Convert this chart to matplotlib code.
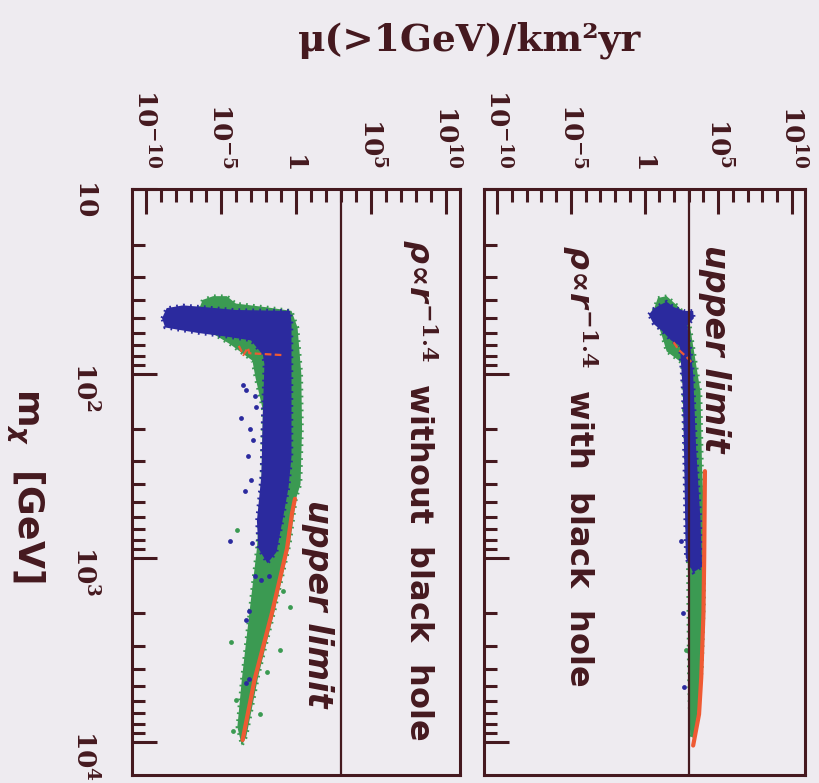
import matplotlib.pyplot as plt
from matplotlib.ticker import FixedLocator, FixedFormatter, NullFormatter, LogLocator

plt.rcParams['mathtext.fontset'] = 'custom'
plt.rcParams['mathtext.rm'] = 'DejaVu Serif:bold'
plt.rcParams['mathtext.it'] = 'DejaVu Sans:italic:bold'
plt.rcParams['mathtext.bf'] = 'DejaVu Sans:bold'

INK = '#45191f'
PAPER = '#eeebf0'
BLUE = '#2b2a9e'
GREEN = '#3b9a52'
RED = '#ef5a33'
SANS = ['DejaVu Sans']

# muon flux limit, muons(>1GeV)/km^2 yr
upper_limit = 10 ** 3.0

mu_ticks = [1e-10, 1e-5, 1, 1e5, 1e10]
mu_labels = [r'$10^{-10}$', r'$10^{-5}$', r'$1$', r'$10^{5}$', r'$10^{10}$']
m_ticks = [10, 100, 1000, 10000]
m_labels = [r'$10$', r'$10^{2}$', r'$10^{3}$', r'$10^{4}$']

# outlines of the model clouds, (log10 mu, log10 m_chi)
# rho ~ r^-1.4, no black hole
green_nobh = [(-6.6, 1.68), (-6.2, 1.60), (-5.5, 1.58), (-4.6, 1.58), (-4.0, 1.62),
              (-2.0, 1.64), (-0.3, 1.66), (0.1, 1.75), (0.35, 2.0), (0.4, 2.3),
              (0.3, 2.6), (0.0, 2.68), (-0.4, 2.92), (-1.4, 3.28), (-2.5, 3.64),
              (-3.3, 3.97), (-3.6, 4.02), (-3.9, 3.92), (-3.6, 3.66), (-3.1, 3.30),
              (-2.6, 2.95), (-2.3, 2.6), (-2.2, 2.2), (-2.7, 2.02), (-2.9, 1.93),
              (-4.4, 1.84), (-6.0, 1.76)]
blue_nobh = [(-8.9, 1.70), (-8.6, 1.645), (-7.5, 1.63), (-6.0, 1.64), (-4.0, 1.655),
             (-0.4, 1.66), (-0.3, 1.72), (-0.3, 2.0), (-0.3, 2.45), (-0.5, 2.62),
             (-0.9, 2.8), (-1.3, 2.97), (-1.9, 3.03), (-2.5, 2.95), (-2.6, 2.8),
             (-2.3, 2.55), (-2.2, 2.2), (-2.1, 1.95), (-2.2, 1.90), (-2.6, 1.86),
             (-3.0, 1.82), (-4.6, 1.80), (-6.5, 1.78), (-8.0, 1.76), (-8.7, 1.75)]
red_nobh = [(-0.07, 2.68), (-0.27, 2.76), (-0.6, 2.95), (-1.6, 3.30), (-2.75, 3.66),
            (-3.55, 3.99)]
red_corner_nobh = [(-3.8, 1.85), (-3.5, 1.90), (-3.2, 1.86), (-3.1, 1.89), (-0.9, 1.90)]
blue_dots_nobh = [(-3.54, 2.06), (-3.31, 2.09), (-2.75, 2.12), (-2.64, 2.18), (-3.64, 2.24),
                  (-3.09, 2.30), (-2.87, 2.36), (-3.2, 2.45), (-2.98, 2.58), (-3.42, 2.64),
                  (-4.4, 2.91), (-2.95, 2.92), (-3.1, 3.29), (-3.3, 3.34), (-3.3, 3.68),
                  (-3.1, 3.66), (-2.7, 3.1), (-2.3, 3.12), (-1.8, 3.1)]
green_dots_nobh = [(-3.9, 2.85), (-4.3, 3.46), (-4.0, 3.77), (-4.2, 3.94), (-0.4, 3.27),
                   (-1.07, 3.5), (-0.87, 3.18), (-2.4, 3.85), (-1.9, 3.62)]

# rho ~ r^-1.4 with the central black hole
green_bh = [(0.6, 1.66), (0.9, 1.59), (1.5, 1.58), (2.2, 1.63), (3.0, 1.70),
            (3.4, 1.90), (3.8, 2.1), (3.9, 2.5), (4.05, 2.8), (4.05, 3.2),
            (3.9, 3.6), (3.6, 3.85), (3.35, 3.98), (3.1, 3.97), (3.0, 3.6),
            (2.95, 3.1), (2.8, 2.5), (2.6, 2.0), (2.5, 1.94), (1.5, 1.88), (1.2, 1.80)]
blue_bh = [(0.29, 1.68), (0.6, 1.65), (1.0, 1.63), (1.5, 1.61), (2.0, 1.64),
           (2.7, 1.66), (3.3, 1.66), (3.35, 1.70), (2.9, 1.74), (3.1, 1.85),
           (3.3, 2.0), (3.5, 2.4), (3.8, 2.8), (3.9, 3.05), (3.3, 3.08),
           (2.8, 3.0), (2.7, 2.5), (2.6, 2.1), (2.4, 1.85), (1.8, 1.82),
           (1.2, 1.77), (0.6, 1.73)]
red_bh = [(4.1, 2.53), (4.05, 3.0), (4.0, 3.3), (3.85, 3.65), (3.7, 3.85), (3.3, 4.02)]
red_corner_bh = [(1.97, 1.83), (2.3, 1.87), (2.85, 1.91), (3.2, 1.94)]
blue_dots_bh = [(2.5, 2.91), (2.6, 3.3), (2.7, 3.7)]
green_dots_bh = [(2.7, 2.2), (2.8, 3.5)]


def unlog(pts):
    return [10 ** a for a, b in pts], [10 ** b for a, b in pts]


def cloud(ax, pts, color, z):
    # dense region plus a dotted rim so the edge looks speckled
    x, y = unlog(pts)
    ax.fill(x, y, color=color, lw=0, zorder=z)
    ax.fill(x, y, facecolor='none', edgecolor=color, lw=2.5,
            linestyle=(0, (0.5, 1.5)), zorder=z)


def panel(ax, green, blue, red, red_corner, blue_dots, green_dots):
    cloud(ax, green, GREEN, 2)
    x, y = unlog(green_dots)
    ax.scatter(x, y, s=12, color=GREEN, lw=0, zorder=2)
    cloud(ax, blue, BLUE, 3)
    x, y = unlog(blue_dots)
    ax.scatter(x, y, s=12, color=BLUE, lw=0, zorder=3)
    x, y = unlog(red)
    ax.plot(x, y, color=RED, lw=3, solid_capstyle='round', zorder=4)
    x, y = unlog(red_corner)
    ax.plot(x, y, color=RED, lw=1.6, linestyle=(0, (3, 1.5)), zorder=4)
    ax.axvline(upper_limit, color=INK, lw=1.6, zorder=5)

    ax.set_xscale('log')
    ax.set_yscale('log')
    ax.set_xlim(10 ** -10.9, 10 ** 10.9)
    ax.set_ylim(10 ** 4.18, 10)
    ax.set_facecolor(PAPER)
    for s in ax.spines.values():
        s.set_linewidth(2.2)
        s.set_color(INK)

    ax.xaxis.tick_top()
    ax.xaxis.set_major_locator(FixedLocator(mu_ticks))
    ax.xaxis.set_major_formatter(FixedFormatter(mu_labels))
    ax.xaxis.set_minor_locator(FixedLocator([10.0 ** k for k in range(-10, 11)]))
    ax.xaxis.set_minor_formatter(NullFormatter())
    ax.yaxis.set_major_locator(FixedLocator(m_ticks))
    ax.yaxis.set_major_formatter(FixedFormatter(m_labels))
    ax.yaxis.set_minor_locator(LogLocator(base=10, subs=range(2, 10)))
    ax.yaxis.set_minor_formatter(NullFormatter())
    ax.tick_params(which='both', direction='in', color=INK, width=2.2,
                   top=True, bottom=False, left=True, right=False,
                   labeltop=True, labelbottom=False, labelcolor=INK)
    ax.tick_params(which='major', length=18)
    ax.tick_params(which='minor', length=9.5)
    ax.tick_params(axis='x', labelrotation=-90, labelsize=19, pad=15)
    ax.tick_params(axis='y', labelrotation=-90, labelsize=19, pad=24)


fig = plt.figure(figsize=(8.19, 7.83), dpi=100, facecolor=PAPER)
ax_l = fig.add_axes([0.1612, 0.0102, 0.4005, 0.7480])
ax_r = fig.add_axes([0.5910, 0.0102, 0.3920, 0.7480])

panel(ax_l, green_nobh, blue_nobh, red_nobh, red_corner_nobh, blue_dots_nobh, green_dots_nobh)
panel(ax_r, green_bh, blue_bh, red_bh, red_corner_bh, blue_dots_bh, green_dots_bh)
ax_r.tick_params(axis='y', labelleft=False)

ax_l.text(0.878, 0.915, r'$\rho\!\propto\!r^{\mathit{-1.4}}$  without  black  hole',
          transform=ax_l.transAxes, rotation=-90, ha='center', va='top',
          fontsize=23, fontweight='bold', family=SANS, color=INK)
ax_l.text(0.564, 0.47, 'upper limit', transform=ax_l.transAxes, rotation=-90,
          ha='center', va='top', fontsize=24, fontweight='bold', fontstyle='italic',
          family=SANS, color=INK)
ax_r.text(0.300, 0.905, r'$\rho\!\propto\!r^{\mathit{-1.4}}$  with  black  hole',
          transform=ax_r.transAxes, rotation=-90, ha='center', va='top',
          fontsize=23, fontweight='bold', family=SANS, color=INK)
ax_r.text(0.718, 0.905, 'upper limit', transform=ax_r.transAxes, rotation=-90,
          ha='center', va='top', fontsize=24, fontweight='bold', fontstyle='italic',
          family=SANS, color=INK)

fig.text(0.573, 0.949, 'μ(>1GeV)/km²yr', ha='center', va='center',
         fontsize=27, fontweight='bold', family=['DejaVu Serif'], color=INK)
fig.text(0.030, 0.38, r'm$_{\chi}$  [GeV]', ha='center', va='center', rotation=-90,
         fontsize=26, fontweight='bold', family=SANS, color=INK)

fig.savefig('out.png', dpi=100, facecolor=PAPER)
